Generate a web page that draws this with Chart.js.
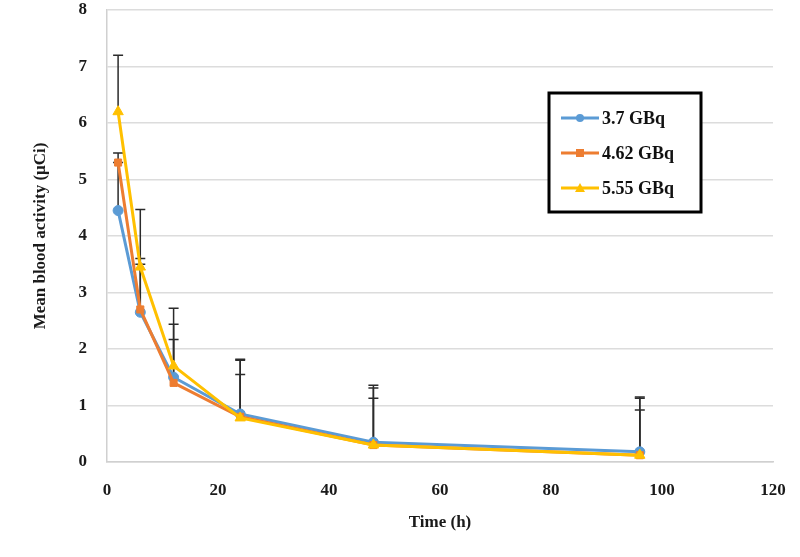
<!DOCTYPE html>
<html>
<head>
<meta charset="utf-8">
<script src="https://cdn.jsdelivr.net/npm/chart.js@4.4.0/dist/chart.umd.min.js"></script>
<style>
  body { margin: 0; background: #fff; }
  #wrap { width: 800px; height: 557px; }
</style>
</head>
<body>
<div id="wrap"><canvas id="mycanvas"></canvas></div>
<script>
// time points (h)
var times = [2, 6, 12, 24, 48, 96];
var labels = ['3.7 GBq', '4.62 GBq', '5.55 GBq'];

// mean blood activity (uCi)
var blue = [4.45, 2.65, 1.5, 0.85, 0.35, 0.18];
var orange = [5.3, 2.7, 1.4, 0.8, 0.3, 0.12];
var yellow = [6.2, 3.45, 1.7, 0.78, 0.3, 0.12];

// upper error (SD)
var blueErr = [0.85, 0.85, 0.67, 0.7, 0.78, 0.74];
var orangeErr = [0.17, 0.9, 1.04, 1.0, 1.01, 1.03];
var yellowErr = [1.0, 1.02, 1.02, 1.04, 1.06, 1.01];

var xTicks = [0, 20, 40, 60, 80, 100, 120];
var yTicks = [0, 1, 2, 3, 4, 5, 6, 7, 8];

var serif = '"Liberation Serif", "Times New Roman", serif';

function pts(vals) {
	var out = [];
	for (var i in vals) {
		out.push({x: times[i], y: vals[i]});
	}
	return out;
}

var errorBars = {
	id: 'errorBars',
	beforeDatasetsDraw: function(chart) {
		var ctx = chart.ctx;
		var xs = chart.scales.x, ys = chart.scales.y;
		ctx.save();
		ctx.strokeStyle = '#2b2b2b';
		ctx.lineWidth = 1.5;
		chart.data.datasets.forEach(function(ds) {
			ds.data.forEach(function(p, i) {
				var px = xs.getPixelForValue(p.x);
				var py = ys.getPixelForValue(p.y);
				var top = ys.getPixelForValue(p.y + ds.err[i]);
				ctx.beginPath();
				ctx.moveTo(px, py);
				ctx.lineTo(px, top);
				ctx.moveTo(px - 5, top);
				ctx.lineTo(px + 5, top);
				ctx.stroke();
			});
		});
		ctx.restore();
	}
};

var boxLegend = {
	id: 'boxLegend',
	afterDraw: function(chart) {
		var ctx = chart.ctx;
		var bx = 549, by = 93, bw = 152, bh = 119;
		ctx.save();
		ctx.fillStyle = '#fff';
		ctx.fillRect(bx, by, bw, bh);
		ctx.strokeStyle = '#000';
		ctx.lineWidth = 3;
		ctx.strokeRect(bx, by, bw, bh);
		chart.data.datasets.forEach(function(ds, i) {
			var y = by + 25 + i * 35;
			ctx.strokeStyle = ds.borderColor;
			ctx.lineWidth = 3;
			ctx.beginPath();
			ctx.moveTo(bx + 12, y);
			ctx.lineTo(bx + 50, y);
			ctx.stroke();
			ctx.fillStyle = ds.borderColor;
			var cx = bx + 31;
			if (ds.pointStyle === 'circle') {
				ctx.beginPath();
				ctx.arc(cx, y, 4, 0, Math.PI * 2);
				ctx.fill();
			} else if (ds.pointStyle === 'rect') {
				ctx.fillRect(cx - 4, y - 4, 8, 8);
			} else {
				ctx.beginPath();
				ctx.moveTo(cx, y - 5);
				ctx.lineTo(cx + 5, y + 4);
				ctx.lineTo(cx - 5, y + 4);
				ctx.closePath();
				ctx.fill();
			}
			ctx.fillStyle = '#111';
			ctx.font = 'bold 18px ' + serif;
			ctx.textBaseline = 'middle';
			ctx.fillText(ds.label, bx + 53, y + 1);
		});
		ctx.restore();
	}
};

var chartdata = {
	datasets: [
		{
			label: labels[0],
			data: pts(blue),
			err: blueErr,
			order: 3,
			borderColor: '#5B9BD5',
			backgroundColor: '#5B9BD5',
			pointStyle: 'circle',
			pointRadius: 5
		},
		{
			label: labels[1],
			data: pts(orange),
			err: orangeErr,
			order: 2,
			borderColor: '#ED7D31',
			backgroundColor: '#ED7D31',
			pointStyle: 'rect',
			pointRadius: 5
		},
		{
			label: labels[2],
			data: pts(yellow),
			err: yellowErr,
			order: 1,
			borderColor: '#FFC000',
			backgroundColor: '#FFC000',
			pointStyle: 'triangle',
			pointRadius: 6
		}
	]
};

var ctx = document.getElementById('mycanvas');

var lineChart = new Chart(ctx, {
	type: 'line',
	data: chartdata,
	plugins: [errorBars, boxLegend],
	options: {
		responsive: true,
		maintainAspectRatio: false,
		animation: false,
		layout: { padding: { top: 10, right: 27, left: 0, bottom: 0 } },
		elements: {
			line: { borderWidth: 3, tension: 0 }
		},
		plugins: {
			legend: { display: false },
			tooltip: { enabled: false }
		},
		scales: {
			x: {
				type: 'linear',
				min: 0,
				max: 120,
				afterBuildTicks: function(scale) {
					scale.ticks = xTicks.map(function(v) { return {value: v}; });
				},
				afterFit: function(scale) {
					scale.height = 95;
					scale.paddingLeft = 0;
					scale.paddingRight = 0;
				},
				grid: { display: false, drawTicks: false },
				border: { color: '#d0d0d0', width: 1.5 },
				ticks: {
					padding: 18,
					color: '#1a1a1a',
					font: { family: serif, size: 17, weight: 'bold' }
				},
				title: {
					display: true,
					text: 'Time (h)',
					color: '#1a1a1a',
					padding: { top: 0, bottom: 24 },
					font: { family: serif, size: 17, weight: 'bold' }
				}
			},
			y: {
				min: 0,
				max: 8,
				afterBuildTicks: function(scale) {
					scale.ticks = yTicks.map(function(v) { return {value: v}; });
				},
				afterFit: function(scale) {
					scale.width = 107;
					scale.paddingTop = 0;
					scale.paddingBottom = 0;
				},
				grid: { color: '#dcdcdc', lineWidth: 1.5, drawTicks: false },
				border: { color: '#d0d0d0', width: 1.5 },
				ticks: {
					padding: 20,
					color: '#1a1a1a',
					font: { family: serif, size: 17, weight: 'bold' }
				},
				title: {
					display: true,
					text: 'Mean blood activity (μCi)',
					color: '#1a1a1a',
					padding: { top: 30, bottom: 0 },
					font: { family: serif, size: 17, weight: 'bold' }
				}
			}
		}
	}
});
</script>
</body>
</html>
